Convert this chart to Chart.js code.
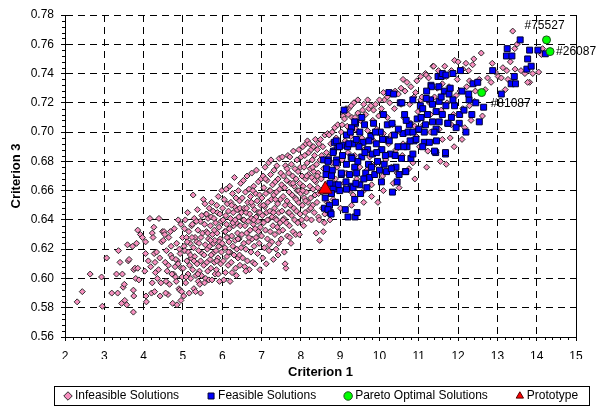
<!DOCTYPE html>
<html>
<head>
<meta charset="utf-8">
<script src="https://cdn.jsdelivr.net/npm/chart.js@4.4.1/dist/chart.umd.min.js"></script>
<style>
  html, body { margin: 0; padding: 0; background: #fff; }
  #wrap { width: 600px; height: 406px; }
</style>
</head>
<body>
<div id="wrap"><canvas id="c"></canvas></div>
<script>
// values: [criterion 1, criterion 3]
const infeasible = [
  [2.31,0.584],[2.44,0.591],[2.64,0.603],[2.93,0.601],[2.95,0.581],[3.06,0.614],[3.19,0.590],[3.31,0.603],[3.34,0.590],[3.36,0.619],
  [3.40,0.611],[3.46,0.603],[3.48,0.594],[3.44,0.583],[3.51,0.596],[3.52,0.585],[3.57,0.582],[3.59,0.623],[3.61,0.612],[3.63,0.613],
  [3.72,0.622],[3.74,0.592],[3.75,0.588],[3.74,0.577],[3.75,0.606],[3.78,0.607],[3.80,0.600],[3.85,0.633],[3.85,0.607],[3.88,0.599],
  [3.92,0.630],[3.97,0.628],[3.82,0.624],
  [4.03,0.605],[4.05,0.625],[4.05,0.617],[4.06,0.588],[4.07,0.584],[4.16,0.641],[4.26,0.635],[4.22,0.631],[4.22,0.597],[4.20,0.590],
  [4.28,0.591],[4.24,0.628],[4.27,0.617],[4.29,0.611],[4.30,0.604],[4.33,0.618],[4.35,0.600],[4.39,0.641],[4.41,0.614],[4.44,0.597],
  [4.38,0.606],[4.46,0.625],[4.48,0.632],[4.42,0.588],[4.12,0.612],[4.18,0.608],
  [4.50,0.626],[4.52,0.632],[4.54,0.630],[4.55,0.611],[4.57,0.598],[4.58,0.619],[4.60,0.605],[4.63,0.609],[4.64,0.628],[4.66,0.596],
  [4.69,0.616],[4.70,0.622],[4.73,0.614],[4.74,0.583],[4.76,0.603],[4.78,0.634],[4.80,0.608],[4.81,0.601],[4.83,0.598],[4.84,0.624],
  [4.85,0.582],[4.86,0.612],[4.88,0.610],[4.90,0.593],[4.92,0.592],[4.93,0.617],[4.95,0.637],[4.96,0.607],[4.97,0.591],[4.99,0.628],
  [4.62,0.589],[4.68,0.632],[4.88,0.640],[4.91,0.620],[4.72,0.603],[4.98,0.601],[4.95,0.585],[4.56,0.590],[4.82,0.613],
  [5.01,0.607],[5.02,0.588],[5.03,0.622],[5.05,0.619],[5.06,0.640],[5.07,0.597],[5.09,0.628],[5.10,0.612],[5.12,0.645],[5.13,0.603],
  [5.14,0.618],[5.15,0.632],[5.17,0.609],[5.18,0.624],[5.20,0.600],[5.21,0.614],[5.22,0.636],[5.24,0.637],[5.25,0.606],[5.26,0.657],
  [5.27,0.621],[5.28,0.593],[5.29,0.641],[5.30,0.615],[5.31,0.628],[5.33,0.602],[5.35,0.625],[5.36,0.610],[5.37,0.647],[5.38,0.633],
  [5.39,0.598],[5.40,0.619],[5.41,0.624],[5.42,0.605],[5.43,0.596],[5.44,0.639],[5.45,0.612],[5.46,0.628],[5.47,0.602],[5.48,0.643],
  [5.49,0.617],[5.04,0.634],[5.16,0.590],[5.23,0.628],[5.34,0.639],[5.11,0.625],[5.19,0.616],[5.32,0.591],[5.38,0.603],[5.45,0.590],
  [5.08,0.601],[5.28,0.612],
  [5.50,0.631],[5.52,0.654],[5.53,0.609],[5.54,0.616],[5.55,0.637],[5.56,0.651],[5.57,0.623],[5.58,0.600],[5.59,0.644],[5.60,0.632],
  [5.61,0.611],[5.62,0.620],[5.63,0.605],[5.64,0.641],[5.65,0.627],[5.66,0.599],[5.67,0.648],[5.68,0.622],[5.69,0.613],[5.70,0.636],
  [5.71,0.607],[5.72,0.642],[5.73,0.652],[5.74,0.599],[5.75,0.630],[5.76,0.617],[5.77,0.646],[5.78,0.624],[5.80,0.611],[5.81,0.626],
  [5.82,0.603],[5.83,0.638],[5.84,0.619],[5.85,0.606],[5.86,0.650],[5.87,0.631],[5.88,0.645],[5.89,0.614],[5.90,0.656],[5.91,0.622],
  [5.92,0.635],[5.93,0.598],[5.94,0.644],[5.95,0.627],[5.96,0.610],[5.97,0.639],[5.98,0.618],[5.99,0.660],[5.55,0.597],[5.63,0.631],
  [5.72,0.616],[5.79,0.641],[5.86,0.612],[5.93,0.625],[5.60,0.644],[5.70,0.626],[5.80,0.633],[5.90,0.603],
  [6.00,0.624],[6.01,0.648],[6.02,0.640],[6.03,0.612],[6.05,0.654],[6.06,0.632],[6.07,0.621],[6.08,0.604],[6.09,0.643],[6.10,0.661],
  [6.11,0.637],[6.12,0.615],[6.13,0.651],[6.14,0.628],[6.15,0.609],[6.16,0.646],[6.17,0.625],[6.18,0.634],[6.19,0.663],[6.20,0.618],
  [6.21,0.641],[6.22,0.652],[6.23,0.611],[6.24,0.629],[6.25,0.604],[6.26,0.658],[6.27,0.622],[6.28,0.645],[6.29,0.636],[6.30,0.616],
  [6.31,0.669],[6.32,0.649],[6.33,0.626],[6.34,0.607],[6.35,0.655],[6.36,0.638],[6.37,0.620],[6.38,0.647],[6.39,0.631],[6.40,0.614],
  [6.41,0.660],[6.42,0.642],[6.43,0.627],[6.44,0.653],[6.45,0.609],[6.46,0.636],[6.47,0.665],[6.48,0.621],[6.49,0.645],[6.04,0.599],
  [6.12,0.628],[6.20,0.598],[6.27,0.638],[6.33,0.640],[6.40,0.627],[6.45,0.648],[6.08,0.632],[6.16,0.618],[6.24,0.650],[6.36,0.602],
  [6.44,0.616],
  [6.50,0.630],[6.51,0.655],[6.52,0.614],[6.53,0.640],[6.54,0.667],[6.55,0.624],[6.56,0.648],[6.57,0.608],[6.58,0.636],[6.59,0.659],
  [6.60,0.620],[6.61,0.645],[6.62,0.631],[6.63,0.670],[6.64,0.612],[6.65,0.652],[6.66,0.639],[6.67,0.625],[6.68,0.661],[6.69,0.606],
  [6.70,0.644],[6.71,0.633],[6.72,0.656],[6.73,0.618],[6.74,0.641],[6.75,0.672],[6.76,0.627],[6.77,0.650],[6.78,0.611],[6.79,0.637],
  [6.80,0.663],[6.81,0.622],[6.82,0.647],[6.83,0.610],[6.84,0.634],[6.85,0.658],[6.86,0.642],[6.87,0.674],[6.88,0.628],[6.89,0.653],
  [6.90,0.617],[6.91,0.639],[6.92,0.666],[6.93,0.645],[6.94,0.624],[6.95,0.657],[6.96,0.606],[6.97,0.635],[6.98,0.650],[6.99,0.668],
  [6.55,0.640],[6.62,0.648],[6.68,0.628],[6.74,0.652],[6.80,0.640],[6.86,0.628],[6.92,0.632],[6.96,0.645],[6.60,0.605],[6.78,0.660],
  [7.00,0.629],[7.01,0.655],[7.02,0.643],[7.03,0.614],[7.04,0.670],[7.05,0.638],[7.06,0.662],[7.07,0.621],[7.08,0.649],[7.09,0.676],
  [7.10,0.633],[7.11,0.658],[7.12,0.610],[7.13,0.645],[7.14,0.667],[7.15,0.627],[7.16,0.652],[7.17,0.640],[7.18,0.679],[7.19,0.619],
  [7.20,0.660],[7.21,0.646],[7.22,0.632],[7.23,0.671],[7.24,0.681],[7.25,0.654],[7.26,0.625],[7.27,0.642],[7.28,0.664],[7.29,0.636],
  [7.30,0.613],[7.31,0.657],[7.32,0.674],[7.33,0.648],[7.34,0.630],[7.35,0.666],[7.36,0.641],[7.37,0.620],[7.38,0.659],[7.39,0.677],
  [7.40,0.635],[7.41,0.651],[7.42,0.668],[7.43,0.624],[7.44,0.645],[7.45,0.682],[7.46,0.661],[7.47,0.638],[7.48,0.654],[7.49,0.672],
  [7.05,0.650],[7.15,0.640],[7.22,0.660],[7.30,0.645],[7.38,0.640],[7.45,0.632],[7.10,0.668],[7.35,0.654],[7.42,0.616],[7.20,0.623],
  [7.50,0.627],[7.51,0.664],[7.52,0.646],[7.53,0.683],[7.54,0.633],[7.55,0.656],[7.56,0.670],[7.57,0.641],[7.58,0.618],[7.59,0.662],
  [7.60,0.650],[7.61,0.677],[7.62,0.607],[7.63,0.638],[7.64,0.667],[7.65,0.653],[7.66,0.629],[7.67,0.684],[7.68,0.645],[7.69,0.672],
  [7.70,0.659],[7.71,0.636],[7.72,0.683],[7.73,0.650],[7.74,0.665],[7.75,0.624],[7.76,0.678],[7.77,0.643],[7.78,0.657],[7.79,0.670],
  [7.80,0.632],[7.81,0.687],[7.82,0.648],[7.83,0.663],[7.84,0.640],[7.85,0.675],[7.86,0.655],[7.87,0.630],[7.88,0.668],[7.89,0.646],
  [7.90,0.681],[7.91,0.660],[7.92,0.638],[7.93,0.673],[7.94,0.652],[7.95,0.688],[7.96,0.630],[7.97,0.665],[7.98,0.644],[7.99,0.676],
  [7.55,0.640],[7.65,0.675],[7.72,0.628],[7.80,0.665],[7.88,0.654],[7.95,0.660],[7.60,0.610],[7.70,0.645],
  [8.00,0.658],[8.01,0.683],[8.02,0.640],[8.03,0.670],[8.04,0.650],[8.05,0.690],[8.06,0.663],[8.07,0.636],[8.08,0.676],[8.09,0.655],
  [8.10,0.684],[8.11,0.645],[8.12,0.668],[8.13,0.692],[8.14,0.659],[8.15,0.641],[8.16,0.679],[8.17,0.694],[8.18,0.652],[8.19,0.671],
  [8.20,0.686],[8.21,0.647],[8.22,0.692],[8.23,0.663],[8.24,0.675],[8.25,0.655],[8.26,0.688],[8.27,0.640],[8.28,0.669],[8.29,0.681],
  [8.30,0.650],[8.31,0.661],[8.32,0.690],[8.33,0.673],[8.34,0.645],[8.35,0.684],[8.36,0.657],[8.37,0.695],[8.38,0.666],[8.39,0.631],
  [8.40,0.678],[8.41,0.652],[8.42,0.688],[8.43,0.662],[8.44,0.672],[8.45,0.642],[8.46,0.692],[8.47,0.640],[8.48,0.626],[8.49,0.681],
  [8.05,0.660],[8.15,0.670],[8.25,0.648],[8.35,0.667],[8.45,0.658],[8.12,0.653],[8.30,0.676],[8.42,0.670],
  [8.50,0.695],[8.52,0.668],[8.53,0.684],[8.55,0.648],[8.56,0.690],[8.58,0.675],[8.60,0.638],[8.61,0.698],[8.63,0.662],[8.65,0.686],
  [8.67,0.652],[8.68,0.699],[8.70,0.671],[8.72,0.698],[8.74,0.640],[8.76,0.692],[8.78,0.679],[8.80,0.700],[8.82,0.654],[8.84,0.688],
  [8.86,0.703],[8.88,0.668],[8.90,0.696],[8.92,0.676],[8.94,0.705],[8.96,0.660],[8.98,0.690],[8.54,0.659],[8.64,0.672],[8.71,0.683],
  [8.57,0.632],[8.61,0.644],
  [9.01,0.648],[9.03,0.700],[9.05,0.681],[9.08,0.711],[9.10,0.665],[9.11,0.709],[9.13,0.694],[9.16,0.672],[9.18,0.704],[9.20,0.686],
  [9.22,0.716],[9.25,0.660],[9.27,0.697],[9.29,0.650],[9.30,0.710],[9.33,0.657],[9.35,0.720],[9.37,0.684],[9.40,0.702],[9.42,0.668],
  [9.45,0.713],[9.47,0.691],[9.15,0.716],[9.38,0.710],[9.05,0.705],[9.20,0.712],[9.28,0.718],[9.45,0.722],
  [9.50,0.676],[9.52,0.708],[9.55,0.696],[9.57,0.715],[9.60,0.660],[9.62,0.688],[9.65,0.712],[9.68,0.674],[9.70,0.701],[9.73,0.716],
  [9.75,0.683],[9.78,0.718],[9.80,0.664],[9.83,0.708],[9.85,0.694],[9.88,0.678],[9.90,0.719],[9.93,0.702],[9.96,0.652],[9.98,0.711],
  [9.60,0.719],[9.70,0.722],[9.85,0.715],[9.60,0.652],[9.80,0.656],
  [10.02,0.688],[10.05,0.716],[10.08,0.670],[10.10,0.699],[10.13,0.722],[10.16,0.681],[10.20,0.710],[10.23,0.692],[10.26,0.720],[10.30,0.676],
  [10.33,0.705],[10.35,0.665],[10.38,0.716],[10.42,0.688],[10.45,0.672],[10.48,0.726],[10.00,0.722],[10.10,0.727],[10.20,0.724],[10.40,0.728],
  [10.30,0.698],[10.10,0.660],
  [10.52,0.700],[10.55,0.719],[10.58,0.684],[10.62,0.710],[10.65,0.728],[10.70,0.734],[10.72,0.692],[10.75,0.675],[10.77,0.719],[10.80,0.706],
  [10.85,0.679],[10.88,0.724],[10.92,0.727],[10.94,0.697],[10.98,0.714],[10.55,0.730],[10.60,0.736],[10.80,0.731],[10.95,0.735],[10.60,0.692],
  [10.90,0.704],[10.50,0.662],[10.90,0.668],
  [11.02,0.690],[11.05,0.722],[11.08,0.724],[11.12,0.705],[11.17,0.740],[11.19,0.739],[11.23,0.722],[11.23,0.687],[11.27,0.720],[11.30,0.712],
  [11.36,0.745],[11.38,0.745],[11.40,0.694],[11.40,0.724],[11.44,0.686],[11.47,0.730],[11.05,0.738],[11.25,0.737],[11.30,0.700],[11.20,0.676],
  [11.52,0.702],[11.57,0.715],[11.60,0.733],[11.66,0.745],[11.70,0.678],[11.72,0.720],[11.77,0.731],[11.80,0.696],[11.83,0.742],[11.83,0.705],
  [11.88,0.712],[11.91,0.749],[11.95,0.725],[11.98,0.736],[11.50,0.742],[11.70,0.738],[11.60,0.695],[11.90,0.690],[11.55,0.680],
  [12.12,0.743],[12.12,0.716],[12.17,0.703],[12.20,0.747],[12.27,0.742],[12.29,0.735],[12.29,0.718],[12.33,0.708],[12.37,0.746],[12.42,0.721],
  [12.44,0.728],[12.05,0.728],[12.22,0.731],[12.00,0.748],[12.40,0.750],[12.10,0.695],
  [12.54,0.736],[12.59,0.754],[12.69,0.729],[12.75,0.737],[12.84,0.734],[12.87,0.747],[12.62,0.711],[12.95,0.741],
  [13.02,0.738],[13.10,0.737],[13.14,0.744],[13.20,0.729],[13.24,0.742],[13.27,0.736],[13.39,0.769],[13.45,0.743],[13.44,0.757],[13.60,0.742],
  [13.70,0.740],[13.82,0.734],[13.90,0.740],[13.77,0.734],[14.05,0.741],[14.12,0.753],[14.15,0.757],[13.50,0.760],[13.33,0.748]
];

const feasible = [
  [8.60,0.648],[8.75,0.645],[8.73,0.650],[9.13,0.647],[9.20,0.642],[9.38,0.642],[9.43,0.645],[9.37,0.654],[8.69,0.647],[8.77,0.644],
  [8.65,0.660],[8.86,0.664],[9.03,0.671],[8.74,0.665],[8.64,0.671],[8.58,0.681],[8.70,0.681],[8.91,0.681],[8.83,0.687],[8.94,0.690],
  [9.07,0.691],[9.19,0.690],[9.32,0.692],[8.85,0.693],[9.50,0.664],[9.28,0.663],[9.15,0.666],[9.10,0.715],[9.39,0.706],[9.29,0.703],
  [9.16,0.698],[8.90,0.694],[8.98,0.690],[9.22,0.692],[9.41,0.695],[8.82,0.686],[9.06,0.684],[9.28,0.683],[8.69,0.680],[8.90,0.679],
  [9.16,0.678],[9.37,0.676],[8.65,0.675],[8.80,0.674],[9.03,0.672],[9.24,0.671],[8.78,0.670],[8.95,0.664],[9.16,0.661],[9.33,0.662],
  [8.82,0.661],[8.78,0.658],[8.99,0.660],[9.26,0.700],[9.37,0.707],[8.62,0.655],[8.88,0.652],
  [9.50,0.700],[9.55,0.683],[9.58,0.693],[9.62,0.705],[9.65,0.672],[9.70,0.688],[9.72,0.678],[9.75,0.669],[9.78,0.697],[9.82,0.685],
  [9.85,0.706],[9.88,0.671],[9.92,0.692],[9.95,0.680],[10.00,0.674],[10.02,0.700],[10.06,0.688],[10.10,0.712],[10.12,0.678],[10.16,0.695],
  [10.20,0.705],[10.24,0.727],[10.28,0.685],[10.33,0.659],[10.36,0.726],[10.38,0.698],[10.42,0.676],[10.45,0.666],[10.47,0.690],[10.50,0.671],
  [10.53,0.720],[10.56,0.682],[10.57,0.720],[10.60,0.699],[10.64,0.712],[10.66,0.673],[10.70,0.690],[10.73,0.700],[10.76,0.705],[10.80,0.682],
  [10.85,0.722],[10.85,0.700],[10.85,0.685],[10.88,0.694],[10.93,0.695],[10.96,0.709],[9.45,0.680],[9.48,0.690],[9.42,0.672],[9.55,0.710],
  [9.60,0.668],[9.30,0.682],[9.40,0.665],[9.52,0.658],[9.68,0.662],[9.80,0.676],[9.90,0.700],[10.05,0.666],[10.15,0.684],[10.25,0.694],
  [10.32,0.706],[10.40,0.684],[10.48,0.702],[10.62,0.690],[10.68,0.708],[10.78,0.694],[9.63,0.686],[9.73,0.694],[9.93,0.686],[10.08,0.695],
  [10.18,0.673],[10.30,0.675],[10.67,0.673],
  [11.04,0.718],[11.31,0.732],[11.49,0.738],[11.57,0.738],[11.65,0.728],[11.30,0.722],[11.74,0.706],[11.44,0.702],[11.14,0.693],[11.43,0.686],
  [11.68,0.685],[11.60,0.740],[11.32,0.731],[11.51,0.731],[11.69,0.739],[11.77,0.726],[11.91,0.718],[11.69,0.718],[11.52,0.721],[11.35,0.719],
  [11.19,0.723],[11.10,0.716],[11.44,0.714],[11.60,0.712],[11.83,0.710],[12.03,0.706],[11.95,0.703],[11.74,0.706],[11.52,0.707],[11.35,0.707],
  [11.17,0.705],[11.06,0.710],[11.14,0.700],[11.39,0.700],[11.27,0.693],[11.10,0.690],[11.40,0.687],[11.68,0.686],[11.87,0.740],[12.06,0.742],
  [11.87,0.722],[12.04,0.712],[12.20,0.700],[12.54,0.707],[12.65,0.717],[12.28,0.722],[12.27,0.726],[12.38,0.733],[12.50,0.734],[12.88,0.742],
  [13.10,0.726],[13.35,0.733],[13.46,0.733],[13.43,0.738],[13.75,0.743],[13.86,0.745],[13.77,0.750],[13.23,0.752],[13.37,0.752],[13.25,0.757],
  [13.58,0.763],[13.82,0.756],[14.03,0.756],[14.22,0.7535],[11.00,0.702],[11.22,0.712],[11.57,0.724],[11.80,0.730],[12.15,0.715],[12.35,0.712],
  [12.10,0.728],[11.20,0.728],[11.45,0.694],[12.45,0.720]
];

const pareto = [[14.25,0.763],[14.34,0.755],[12.60,0.727]];
const paretoIds = ['#75527', '#26087', '#81087'];
const prototype = [[8.62,0.661]];

const seriesNames = ['Infeasible Solutions', 'Feasible Solutions', 'Pareto Optimal Solutions', 'Prototype'];
const xMin = 2, xMax = 15, xStep = 1;
const yMin = 0.56, yMax = 0.78, yStep = 0.02;

const FONT = "Arial, 'Liberation Sans', sans-serif";
Chart.defaults.font.family = FONT;
Chart.defaults.color = '#000';

const toPts = arr => arr.map(p => ({ x: p[0], y: p[1] }));

// text offsets of the id labels, in pixels from their point
const idOffsets = [[-22, -14], [6, 0], [9, 11]];

const extras = {
  id: 'extras',
  afterLayout(chart) {
    // start the legend row under the plot's left edge
    const lg = chart.legend;
    const pad = lg.options.labels.padding;
    lg.left = chart.chartArea.left + 2 - pad;
    lg.right = 900;
  },
  afterDatasetsDraw(chart) {
    const { ctx } = chart;
    const xs = chart.scales.x, ys = chart.scales.y;
    ctx.save();
    ctx.font = '12px ' + FONT;
    ctx.fillStyle = '#000';
    ctx.textBaseline = 'middle';
    ctx.textAlign = 'left';
    pareto.forEach((p, i) => {
      const px = xs.getPixelForValue(p[0]);
      const py = ys.getPixelForValue(p[1]);
      ctx.fillText(paretoIds[i], px + idOffsets[i][0], py + idOffsets[i][1]);
    });
    ctx.restore();
  },
  afterDraw(chart) {
    const { ctx, chartArea: a } = chart;
    const xs = chart.scales.x, ys = chart.scales.y;
    ctx.save();
    ctx.strokeStyle = '#000';
    ctx.lineWidth = 1;
    ctx.beginPath();
    // right edge of the plot
    const r = Math.round(a.right) + 0.5;
    ctx.moveTo(r, a.top);
    ctx.lineTo(r, a.bottom);
    // minor ticks
    for (let i = 0; i <= (xMax - xMin) * 5; i++) {
      if (i % 5 === 0) continue;
      const px = Math.round(xs.getPixelForValue(xMin + i * 0.2)) + 0.5;
      ctx.moveTo(px, a.bottom);
      ctx.lineTo(px, a.bottom + 3);
    }
    for (let i = 0; i <= 55; i++) {
      if (i % 5 === 0) continue;
      const py = Math.round(ys.getPixelForValue(yMin + i * 0.004)) + 0.5;
      ctx.moveTo(a.left - 3, py);
      ctx.lineTo(a.left, py);
    }
    ctx.stroke();
    // legend frame
    const lg = chart.legend;
    const cy = lg.top + lg.options.labels.padding + 6;
    ctx.strokeRect(Math.round(a.left - 11) + 0.5, Math.round(cy - 10) + 0.5, Math.round(a.right - a.left + 24), 19);
    ctx.restore();
  }
};

new Chart(document.getElementById('c'), {
  type: 'scatter',
  data: {
    datasets: [
      { label: seriesNames[0], data: toPts(infeasible), pointStyle: 'rectRot', pointRadius: 3,
        backgroundColor: '#f78fbf', borderColor: '#2a2a2a', borderWidth: 1, order: 3 },
      { label: seriesNames[1], data: toPts(feasible), pointStyle: 'rect', pointRadius: 4.2,
        backgroundColor: '#0000ff', borderColor: '#000030', borderWidth: 1, order: 2 },
      { label: seriesNames[2], data: toPts(pareto), pointStyle: 'circle', pointRadius: 4,
        backgroundColor: '#00ff00', borderColor: '#205020', borderWidth: 1, order: 1 },
      { label: seriesNames[3], data: toPts(prototype), pointStyle: 'triangle', pointRadius: 8,
        backgroundColor: '#ff0000', borderColor: '#500000', borderWidth: 1, order: 0 }
    ]
  },
  options: {
    responsive: true,
    maintainAspectRatio: false,
    animation: false,
    devicePixelRatio: 1,
    events: [],
    layout: { padding: { left: 0, right: 24, top: 15, bottom: 0 } },
    scales: {
      x: {
        type: 'linear', min: xMin, max: xMax,
        afterFit: s => { s.height = 22; },
        ticks: { stepSize: xStep, padding: 8, font: { size: 12 }, color: '#000', maxRotation: 0, autoSkip: false },
        grid: { color: '#000', lineWidth: 1, tickLength: 4, tickColor: '#000' },
        border: { display: true, color: '#000', width: 1, dash: [7, 5] },
        title: { display: true, text: 'Criterion 1', font: { size: 13, weight: 'bold' }, color: '#000', padding: { top: 0, bottom: -21 } }
      },
      y: {
        type: 'linear', min: yMin, max: yMax,
        afterFit: s => { s.width = 65; },
        ticks: { stepSize: yStep, padding: 7, font: { size: 12 }, color: '#000', callback: v => v.toFixed(2) },
        grid: { color: '#000', lineWidth: 1, tickLength: 4, tickColor: '#000' },
        border: { display: true, color: '#000', width: 1, dash: [7, 5] },
        title: { display: true, text: 'Criterion 3', font: { size: 13, weight: 'bold' }, color: '#000', padding: { top: 9, bottom: 0 } }
      }
    },
    plugins: {
      tooltip: { enabled: false },
      legend: {
        position: 'bottom',
        align: 'start',
        maxHeight: 47,
        labels: {
          usePointStyle: true, boxWidth: 2, boxHeight: 6, padding: 31,
          font: { size: 12 }, color: '#000',
          sort: (a, b) => a.datasetIndex - b.datasetIndex
        }
      }
    }
  },
  plugins: [extras]
});
</script>
</body>
</html>
